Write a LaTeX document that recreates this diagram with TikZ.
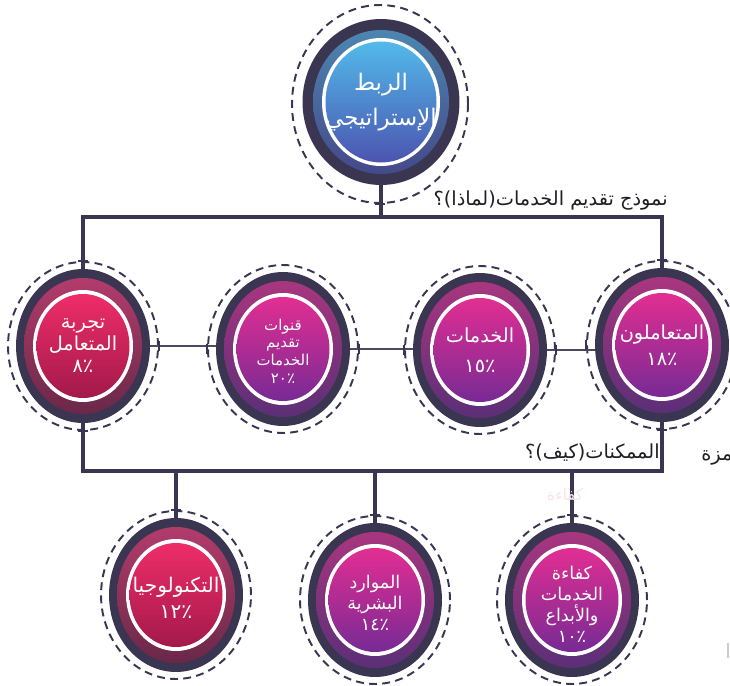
\documentclass[tikz,border=0pt]{standalone}
\usepackage{fontspec}
\newfontfamily\arabicfont[Script=Arabic]{DejaVu Sans}
\TeXXeTstate=1
\usetikzlibrary{shapes.geometric}
\newcommand\rtltext[1]{\beginR#1\endR}
\newcommand\pcttext[1]{\beginL#1\kern0pt ٪\endL}
\definecolor{ringdark}{HTML}{3A3551}
\definecolor{pinktop}{HTML}{EE2D69}
\definecolor{pinkbot}{HTML}{A3194A}
\definecolor{pinkbandtop}{HTML}{B23C6C}
\definecolor{pinkbandbot}{HTML}{6A2848}
\definecolor{purptop}{HTML}{E22E92}
\definecolor{purpbot}{HTML}{782A94}
\definecolor{purpbandtop}{HTML}{A8367F}
\definecolor{purpbandbot}{HTML}{5B2F77}
\definecolor{bluetop}{HTML}{52BAEA}
\definecolor{bluebot}{HTML}{4B54B0}
\definecolor{bluebandtop}{HTML}{4C86B0}
\definecolor{bluebandbot}{HTML}{45498A}
\definecolor{headink}{HTML}{1E1E24}
\definecolor{faintpink}{HTML}{F8E3E8}
\tikzset{
  dashring/.style={ellipse, draw=ringdark, dash pattern=on 4.5pt off 3pt, line width=1.1pt, inner sep=0pt, minimum width=3cm, minimum height=3.36cm},
  disc/.style={ellipse, fill=ringdark, inner sep=0pt, minimum width=2.68cm, minimum height=3.08cm},
  link/.style={draw=ringdark, line width=2.8pt},
  thinlink/.style={draw=ringdark!90, line width=1.1pt},
  tickmark/.style={draw=ringdark, line width=1.1pt},
  intext/.style={text=white, align=center, inner sep=0pt, font=\arabicfont\fontsize{10}{12}\selectfont},
  headtext/.style={text=headink, inner sep=0pt, font=\arabicfont\fontsize{11}{13}\selectfont}
}
\begin{document}
\begin{tikzpicture}[x=0.02cm, y=-0.02cm]
\useasboundingbox (0,0) rectangle (730,686);

\node[dashring, minimum width=3.52cm, minimum height=3.96cm] (top-o) at (380,104) {};
\node[disc, minimum width=3.14cm, minimum height=3.32cm] (top) at (381,102) {};
\shade[top color=bluebandtop, bottom color=bluebandbot] (top) ellipse (68 and 72);
\fill[white] (top) ellipse (59 and 64);
\shade[top color=bluetop, bottom color=bluebot] (top) ellipse (55.5 and 60.5);

\foreach \n/\x/\y/\c in {exp/83/346/pink, chan/283/349/purp, serv/480/350/purp, cust/662/345/purp,
                         tech/176/595/pink, hr/375/600/purp, eff/572/600/purp}{
  \node[dashring] (\n-o) at (\x,\y) {};
  \node[disc] (\n) at (\x,\y) {};
  \shade[top color=\c bandtop, bottom color=\c bandbot] (\n) ellipse (59 and 68);
  \fill[white] (\n) ellipse (50 and 56);
  \shade[top color=\c top, bottom color=\c bot] (\n) ellipse (46.5 and 52);
}

\node[intext, font=\arabicfont\fontsize{13}{20}\selectfont] (top-txt) at (top) {\rtltext{الربط}\\\rtltext{الإستراتيجي}};
\node[intext, font=\arabicfont\fontsize{11}{12.5}\selectfont] (exp-txt) at (exp) {\rtltext{تجربة}\\\rtltext{المتعامل}\\\pcttext{٨}};
\node[intext, font=\arabicfont\fontsize{8.5}{10}\selectfont] (chan-txt) at ([yshift=-0.04cm]chan) {\rtltext{قنوات}\\\rtltext{تقديم}\\\rtltext{الخدمات}\\\pcttext{٢٠}};
\node[intext, font=\arabicfont\fontsize{11}{17}\selectfont] (serv-txt) at (serv) {\rtltext{الخدمات}\\\pcttext{١٥}};
\node[intext, font=\arabicfont\fontsize{11}{15}\selectfont] (cust-txt) at (cust) {\rtltext{المتعاملون}\\\pcttext{١٨}};
\node[intext, font=\arabicfont\fontsize{11.5}{15}\selectfont] (tech-txt) at ([yshift=-0.06cm]tech) {\rtltext{التكنولوجيا}\\\pcttext{١٢}};
\node[intext] (hr-txt) at ([yshift=-0.06cm]hr) {\rtltext{الموارد}\\\rtltext{البشرية}\\\pcttext{١٤}};
\node[intext] (eff-txt) at ([yshift=-0.08cm]eff) {\rtltext{كفاءة}\\\rtltext{الخدمات}\\\rtltext{والأبداع}\\\pcttext{١٠}};

\coordinate (why) at (top.south |- 0,217);
\coordinate (how) at (exp.south |- 0,471);
\draw[link] (top.south) -- (why);
\draw[link] (exp.north) |- (why) -| (cust.north);
\draw[link] (exp.south) -- (how) -| (cust.south);
\foreach \n in {tech,hr,eff}
  \draw[link] (\n.north |- how) -- (\n.north);
\draw[thinlink] (exp.east) -- (exp.east -| chan.west);
\draw[thinlink] (chan.east) -- (chan.east -| serv.west);
\draw[thinlink] (serv.east) -- (serv.east -| cust.west);

\foreach \p in {top-o.south, exp-o.north, exp-o.south, cust-o.north, cust-o.south, tech-o.north, hr-o.north, eff-o.north}
  \draw[tickmark] ([xshift=-0.1cm]\p) -- ([xshift=0.1cm]\p);
\foreach \p in {exp-o.east, chan-o.west, chan-o.east, serv-o.west, serv-o.east, cust-o.west}
  \draw[tickmark] ([yshift=-0.1cm]\p) -- ([yshift=0.1cm]\p);

\node[headtext, anchor=east] (why-txt) at (668,201) {\rtltext{نموذج تقديم الخدمات(لماذا)؟}};
\node[headtext, anchor=east] (how-txt) at (660,453) {\rtltext{الممكنات(كيف)؟}};
\node[headtext, anchor=west] (cut-txt) at (701,458) {\rtltext{ـمزة}};
\node[text=faintpink, inner sep=0pt, font=\arabicfont\fontsize{9}{11}\selectfont] (ghost) at (565,495) {\rtltext{كفاءة}};
\draw[black!20, line width=0.6pt] (728,643) -- (728,658);
\end{tikzpicture}
\end{document}
